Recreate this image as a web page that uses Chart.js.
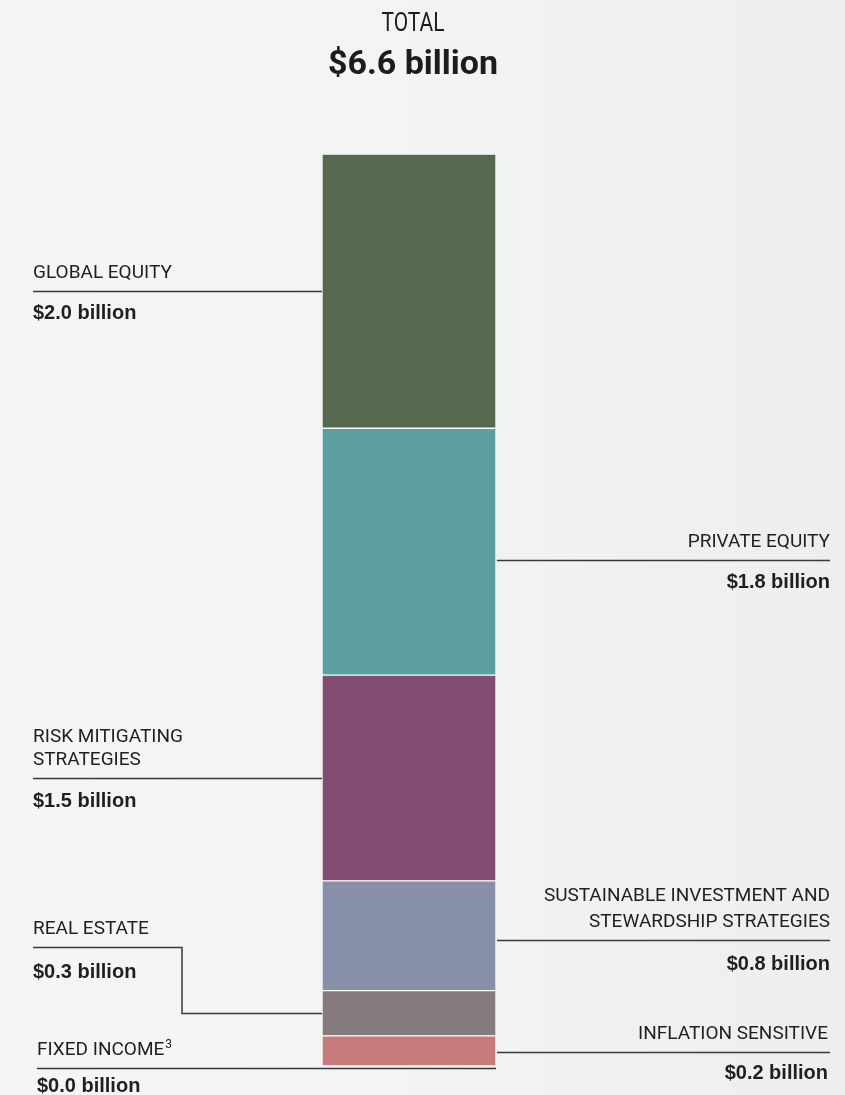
<!DOCTYPE html>
<html>
<head>
<meta charset="utf-8">
<script src="https://cdn.jsdelivr.net/npm/chart.js@4/dist/chart.umd.min.js"></script>
<style>
  html, body { margin: 0; padding: 0; }
  body {
    width: 845px; height: 1095px; overflow: hidden; position: relative;
    background: linear-gradient(to right, #f5f5f5 0%, #f3f3f3 50%, #edeeef 100%);
  }
  canvas { position: absolute; left: 0; top: 0; }
</style>
</head>
<body>
<canvas id="chart" width="845" height="1095"></canvas>
<script>
// asset classes, top of the bar first
const categories = ['Global Equity', 'Private Equity', 'Risk Mitigating Strategies',
  'Sustainable Investment and Stewardship Strategies', 'Real Estate', 'Inflation Sensitive', 'Fixed Income'];
const values = [2.0, 1.8, 1.5, 0.8, 0.33, 0.22, 0.0];     // $ billion
const valueLabels = ['$2.0 billion', '$1.8 billion', '$1.5 billion', '$0.8 billion',
  '$0.3 billion', '$0.2 billion', '$0.0 billion'];
const nameLabels = [['GLOBAL EQUITY'], ['PRIVATE EQUITY'], ['RISK MITIGATING', 'STRATEGIES'],
  ['SUSTAINABLE INVESTMENT AND', 'STEWARDSHIP STRATEGIES'], ['REAL ESTATE'], ['INFLATION SENSITIVE'], ['FIXED INCOME']];
const colors = ['#55694f', '#5ba09f', '#834c71', '#8790a8', '#857a7c', '#c57b7b', '#b0b0b0'];
const titleTop = 'TOTAL';
const titleMain = '$6.6 billion';

// label placement: which side, offset of leader line from segment middle
const layout = [
  { side: 'left', x: 33, dy: 0, vdy: 27 },
  { side: 'right', x: 830, dy: 8, vdy: 27 },
  { side: 'left', x: 33, dy: 0, vdy: 28 },
  { side: 'right', x: 830, dy: 4, vdy: 29, gap: 26 },
  { side: 'left', x: 33, dy: 0, vdy: 30, elbow: -66, elbowX: 182 },
  { side: 'right', x: 828, dy: 1, vdy: 26, lineEnd: 830 },
  { side: 'left', x: 37, dy: 2, vdy: 23, sup: '3', toRight: true }
];

const total = values.reduce((a, b) => a + b, 0);

// stacked from the bottom, so reverse order for datasets
const datasets = categories.map((c, i) => ({
  label: c,
  data: [values[i]],
  backgroundColor: colors[i],
  borderColor: '#ffffff',
  borderWidth: 1,
  borderSkipped: false
})).reverse();

const labelFont = '19px Roboto, sans-serif';
const valueFont = 'bold 20px "Liberation Sans", Arial, sans-serif';

const labelPlugin = {
  id: 'labels',
  afterDraw(chart) {
    const ctx = chart.ctx;
    const y = chart.scales.y;
    const area = chart.chartArea;
    let base = 0;
    const mids = [];
    // compute middles from the bottom up
    for (let i = values.length - 1; i >= 0; i--) {
      mids[i] = y.getPixelForValue(base + values[i] / 2);
      base += values[i];
    }
    ctx.save();

    // title, slightly condensed
    ctx.fillStyle = '#1c1c1c';
    ctx.textAlign = 'center';
    ctx.textBaseline = 'alphabetic';
    ctx.save();
    ctx.translate(413, 31);
    ctx.scale(0.84, 1);
    ctx.font = '25px Roboto, sans-serif';
    ctx.fillText(titleTop, 0, 0);
    ctx.restore();
    ctx.font = 'bold 34px Roboto, sans-serif';
    ctx.fillText(titleMain, 413, 74);

    ctx.strokeStyle = '#3a3a3a';
    ctx.lineWidth = 1.5;
    ctx.fillStyle = '#1f1f1f';
    values.forEach((v, i) => {
      const L = layout[i];
      const ly = Math.round(mids[i] + L.dy) + 0.5;
      const topY = L.elbow ? ly + L.elbow : ly;
      ctx.beginPath();
      if (L.side === 'left') {
        if (L.elbow) {
          ctx.moveTo(L.x, topY);
          ctx.lineTo(L.elbowX, topY);
          ctx.lineTo(L.elbowX, ly);
          ctx.lineTo(area.left, ly);
        } else {
          ctx.moveTo(L.x, ly);
          ctx.lineTo(L.toRight ? area.right : area.left, ly);
        }
      } else {
        ctx.moveTo(area.right + 1, ly);
        ctx.lineTo(L.lineEnd || L.x, ly);
      }
      ctx.stroke();

      ctx.textAlign = L.side === 'left' ? 'left' : 'right';
      ctx.font = labelFont;
      const lines = nameLabels[i];
      const gap = L.gap || 23;
      lines.forEach((t, k) => {
        const by = topY - 14 - (lines.length - 1 - k) * gap;
        ctx.fillText(t, L.x, by);
        if (L.sup && k === lines.length - 1) {
          const w = ctx.measureText(t).width;
          ctx.font = '12px Roboto, sans-serif';
          ctx.fillText(L.sup, L.x + w + 1, by - 7);
          ctx.font = labelFont;
        }
      });
      ctx.font = valueFont;
      ctx.fillText(valueLabels[i], L.x, topY + L.vdy);
    });
    ctx.restore();
  }
};

new Chart(document.getElementById('chart'), {
  type: 'bar',
  data: { labels: ['Total'], datasets: datasets },
  options: {
    responsive: false,
    animation: false,
    layout: { padding: { left: 322, right: 349, top: 154, bottom: 29 } },
    plugins: { legend: { display: false }, tooltip: { enabled: false } },
    scales: {
      x: { stacked: true, display: false },
      y: { stacked: true, display: false, min: 0, max: total }
    },
    datasets: { bar: { barPercentage: 1, categoryPercentage: 1 } }
  },
  plugins: [labelPlugin]
});
</script>
</body>
</html>
